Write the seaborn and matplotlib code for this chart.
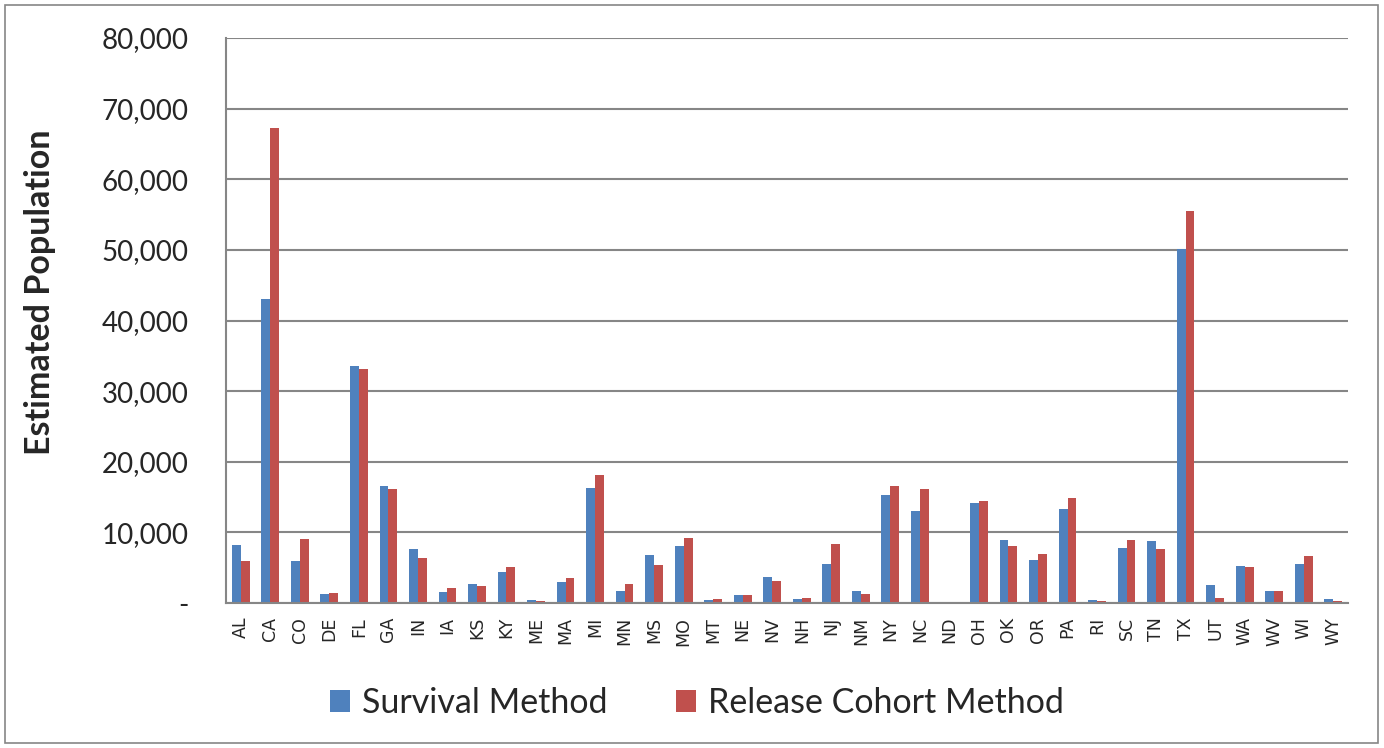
import matplotlib
matplotlib.use("Agg")
import matplotlib.pyplot as plt
import matplotlib.ticker as mticker
from matplotlib.patches import Rectangle, Patch
import seaborn as sns
import pandas as pd
import numpy as np

states = ["AL","CA","CO","DE","FL","GA","IN","IA","KS","KY","ME","MA","MI","MN","MS","MO",
          "MT","NE","NV","NH","NJ","NM","NY","NC","ND","OH","OK","OR","PA","RI","SC","TN",
          "TX","UT","WA","WV","WI","WY"]
survival = [8170, 43000, 5950, 1230, 33500, 16600, 7600, 1500, 2640, 4390, 380, 2970, 16300,
            1650, 6800, 8030, 470, 1130, 3730, 570, 5570, 1750, 15250, 13030, 150, 14100,
            8870, 6040, 13260, 380, 7790, 8730, 50100, 2550, 5240, 1650, 5570, 570]
release = [5900, 67200, 9060, 1370, 33100, 16150, 6370, 2170, 2410, 5100, 240, 3500, 18100,
           2690, 5430, 9160, 570, 1080, 3070, 710, 8350, 1270, 16500, 16140, 100, 14500,
           8070, 6940, 14870, 280, 8870, 7600, 55500, 710, 5100, 1650, 6650, 280]
series_names = ["Survival Method", "Release Cohort Method"]
colors = ["#4F81BD", "#C0504D"]

df = pd.DataFrame({
    "State": states * 2,
    "Value": survival + release,
    "Series": [series_names[0]] * len(states) + [series_names[1]] * len(states),
})

sns.set_style("white")
plt.rcParams["font.family"] = ["Lato", "DejaVu Sans"]

fig = plt.figure(figsize=(13.84, 7.48), dpi=100)
ax = fig.add_axes([226/1384, 1 - 603/748, (1348-226)/1384, (603-38)/748])

sns.barplot(data=df, x="State", y="Value", hue="Series", palette=colors,
            width=0.6, ax=ax, legend=False, linewidth=0, saturation=1)

ax.set_xlim(-0.5, len(states) - 0.5)
ax.set_ylim(0, 80000)
ax.yaxis.set_major_locator(mticker.MultipleLocator(10000))
ax.yaxis.set_major_formatter(mticker.FuncFormatter(lambda v, p: "-" if v == 0 else f"{int(v):,}"))
ax.grid(axis="y", color="#868686", linewidth=1.5)
ax.set_axisbelow(True)
for s in ["top", "right"]:
    ax.spines[s].set_visible(False)
for s in ["left", "bottom"]:
    ax.spines[s].set_color("#868686")
    ax.spines[s].set_linewidth(1.5)

ax.tick_params(axis="y", length=7, width=1.5, color="#868686", pad=20, labelsize=20)
ax.set_xticks(range(len(states)))
ax.set_xticklabels(states, rotation=90, fontsize=12.5, family=["DejaVu Sans"])
ax.tick_params(axis="x", which="major", length=0, pad=10)
ax.set_xticks(np.arange(-0.5, len(states)), minor=True)
ax.tick_params(axis="x", which="minor", length=6, width=1.5, color="#868686")
ax.set_xlabel("")
ax.set_ylabel("")

fig.text(40/1384, 1 - 292/748, "Estimated Population", rotation=90, ha="center", va="center",
         fontsize=24.5, fontweight="bold")

handles = [Patch(facecolor=c, edgecolor="none") for c in colors]
fig.legend(handles, series_names, loc="center", bbox_to_anchor=(697/1384, 1 - 703/748),
           ncol=2, frameon=False, fontsize=24.5, handlelength=0.6, handleheight=0.6,
           columnspacing=2.0, handletextpad=0.35)

fig.patches.append(Rectangle((5/1384, 5/748), 1373/1384, 738/748, transform=fig.transFigure,
                             fill=False, edgecolor="#868686", linewidth=1.2))

fig.savefig("out.png", dpi=100)
